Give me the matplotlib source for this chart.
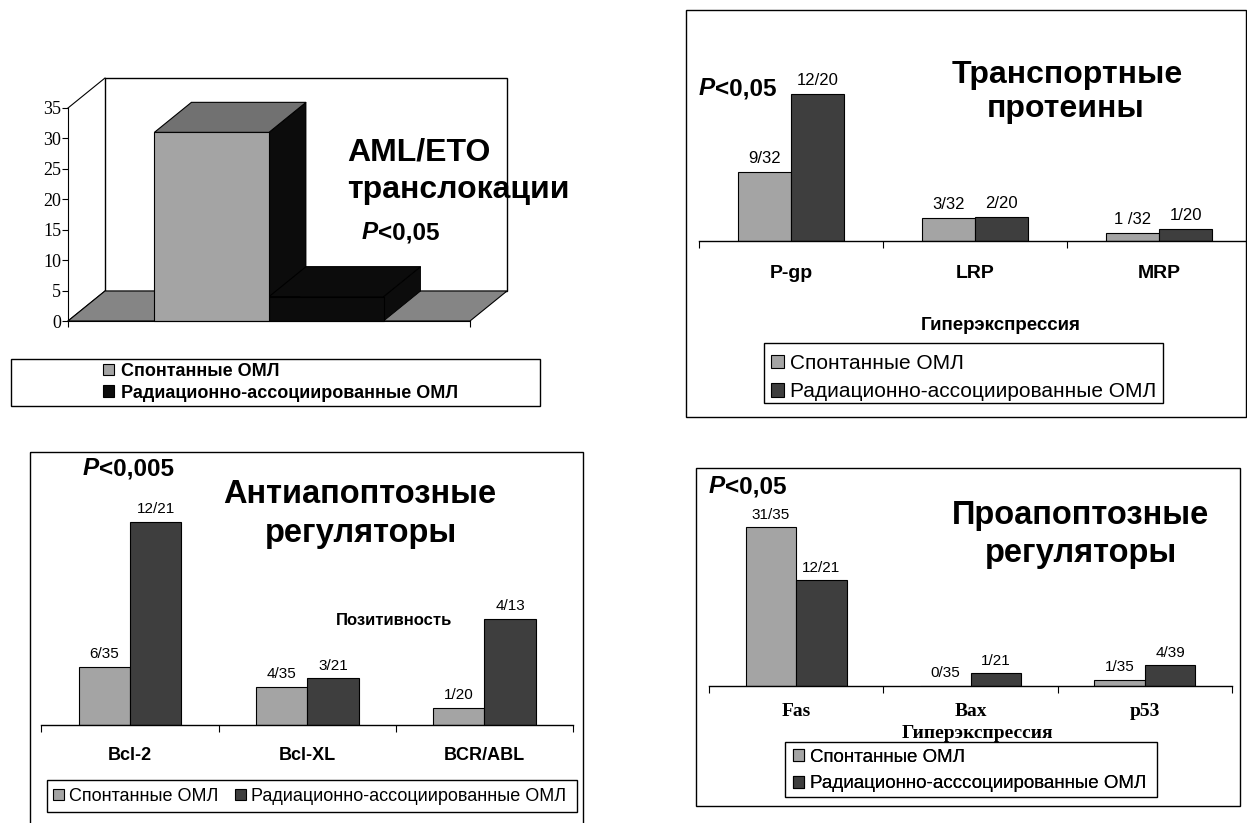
import matplotlib
matplotlib.use('Agg')
import matplotlib.pyplot as plt
from matplotlib.patches import Rectangle, Polygon
import numpy as np

plt.rcParams['font.family'] = ['Liberation Sans', 'DejaVu Sans']

W, H = 1247, 823

series_names = ['Спонтанные ОМЛ', 'Радиационно-ассоциированные ОМЛ']
series_names_pro = ['Спонтанные ОМЛ', 'Радиационно-асссоциированные ОМЛ']

# AML/ETO (3D columns)
aml_values = [31, 4]
aml_yticks = [0, 5, 10, 15, 20, 25, 30, 35]

# Транспортные протеины, % of patients
tr_cats = ['P-gp', 'LRP', 'MRP']
tr_spont = [28.2, 9.4, 3.3]
tr_rad = [60.0, 9.8, 4.9]
tr_spont_lbl = ['9/32', '3/32', '1 /32']
tr_rad_lbl = ['12/20', '2/20', '1/20']

# Антиапоптозные регуляторы
anti_cats = ['Bcl-2', 'Bcl-XL', 'BCR/ABL']
anti_spont = [17.1, 11.2, 5.0]
anti_rad = [59.7, 13.8, 31.2]
anti_spont_lbl = ['6/35', '4/35', '1/20']
anti_rad_lbl = ['12/21', '3/21', '4/13']

# Проапоптозные регуляторы
pro_cats = ['Fas', 'Bax', 'p53']
pro_spont = [88.6, 0, 3.5]
pro_rad = [59.0, 7.2, 11.5]
pro_spont_lbl = ['31/35', '0/35', '1/35']
pro_rad_lbl = ['12/21', '1/21', '4/39']

GRAY = '#a4a4a4'
DARK = '#3e3e3e'
P_SIZE = 17.5

fig = plt.figure(figsize=(W / 100, H / 100), dpi=100)

# overlay in pixel coords for frames and free text (drawn on top)
ov = fig.add_axes([0, 0, 1, 1])
ov.set_xlim(0, W)
ov.set_ylim(H, 0)
ov.axis('off')
ov.patch.set_visible(False)
ov.set_zorder(10)


def px_axes(x0, y0, x1, y1):
    ax = fig.add_axes([x0 / W, 1 - y1 / H, (x1 - x0) / W, (y1 - y0) / H])
    ax.patch.set_visible(False)
    return ax


def frame(x0, y0, x1, y1, lw=1.0):
    ov.add_patch(Rectangle((x0, y0), x1 - x0, y1 - y0, fill=False,
                           edgecolor='black', linewidth=lw))


def p_label(x, y, rest, size=P_SIZE):
    t = ov.text(x, y, 'P', fontsize=size, fontweight='bold',
                fontstyle='italic', va='baseline', ha='left')
    ov.annotate(rest, xy=(1, 0), xycoords=t, fontsize=size,
                fontweight='bold', va='bottom', ha='left')


def legend(handles, names, x, y, **kw):
    opts = dict(loc='upper left', bbox_to_anchor=(x, y),
                bbox_transform=ov.transData, frameon=False, borderpad=0,
                borderaxespad=0, handlelength=0.6, handleheight=0.6,
                handletextpad=0.3)
    opts.update(kw)
    leg = ov.legend(handles, names, **opts)
    ov.add_artist(leg)
    return leg


def grouped(ax, cats, spont, rad, spont_lbl, rad_lbl, ymax, names,
            lbl_size=11, cat_font=None, cat_pad=17):
    x = np.arange(len(cats))
    w = 0.29
    b1 = ax.bar(x - w / 2, spont, w, color=GRAY, edgecolor='black',
                linewidth=0.8, label=names[0])
    b2 = ax.bar(x + w / 2, rad, w, color=DARK, edgecolor='black',
                linewidth=0.8, label=names[1])
    ax.bar_label(b1, labels=spont_lbl, padding=4, fontsize=lbl_size)
    ax.bar_label(b2, labels=rad_lbl, padding=4, fontsize=lbl_size)
    ax.set_xlim(-0.5, len(cats) - 0.5)
    ax.set_ylim(0, ymax)
    for s in ['left', 'top', 'right']:
        ax.spines[s].set_visible(False)
    ax.spines['bottom'].set_linewidth(1.0)
    ax.set_yticks([])
    ax.set_xticks(np.arange(len(cats) + 1) - 0.5)
    ax.set_xticklabels([])
    ax.tick_params(axis='x', which='major', direction='out', length=5, width=0.8)
    ax.set_xticks(x, minor=True)
    ax.set_xticklabels(cats, minor=True, **(cat_font or {}))
    ax.tick_params(axis='x', which='minor', length=0, pad=cat_pad)
    return b1, b2


# ---------------- panel 1: AML/ETO, pseudo-3D ----------------
ax1 = px_axes(68, 108, 470, 321)
ax1.set_xlim(0, 1)
ax1.set_ylim(0, 35)
dx = 37 / 402.0
dy = 30 / (213 / 35.0)
ymax1 = aml_yticks[-1]
# back wall and left edges
ax1.add_patch(Rectangle((dx, dy), 1, ymax1, facecolor='white',
                        edgecolor='black', linewidth=1, clip_on=False, zorder=1))
ax1.plot([0, dx], [ymax1, ymax1 + dy], color='black', lw=0.8, clip_on=False)
ax1.plot([0, dx], [0, dy], color='black', lw=0.8, clip_on=False)
# floor
ax1.add_patch(Polygon([(0, 0), (1, 0), (1 + dx, dy), (dx, dy)], closed=True,
                      facecolor='#858585', edgecolor='black', linewidth=0.8,
                      clip_on=False, zorder=2))
bw = 0.285
lefts = [0.5 - bw, 0.5]
fronts = [GRAY, '#0c0c0c']
tops = ['#717171', '#0c0c0c']
handles1 = []
for i in [1, 0]:
    l, v = lefts[i], aml_values[i]
    z = 4 if i == 1 else 6
    side = Polygon([(l + bw, 0), (l + bw + dx, dy), (l + bw + dx, v + dy),
                    (l + bw, v)], closed=True, facecolor='#0c0c0c',
                   edgecolor='black', linewidth=0.6, clip_on=False,
                   zorder=z if i == 1 else 3)
    front = Polygon([(l, 0), (l + bw, 0), (l + bw, v), (l, v)], closed=True,
                    facecolor=fronts[i], edgecolor='black', linewidth=0.8,
                    clip_on=False, zorder=z, label=series_names[i])
    top = Polygon([(l, v), (l + bw, v), (l + bw + dx, v + dy), (l + dx, v + dy)],
                  closed=True, facecolor=tops[i], edgecolor='black',
                  linewidth=0.8, clip_on=False, zorder=z)
    ax1.add_patch(side)
    ax1.add_patch(front)
    ax1.add_patch(top)
    handles1.insert(0, front)
for s in ['top', 'right']:
    ax1.spines[s].set_visible(False)
ax1.spines['left'].set_zorder(10)
ax1.spines['bottom'].set_zorder(10)
ax1.set_yticks(aml_yticks)
ax1.set_yticklabels([str(t) for t in aml_yticks], family='Liberation Serif',
                    fontsize=13)
ax1.tick_params(axis='y', direction='out', length=4, pad=1)
ax1.set_xticks([0, 1])
ax1.set_xticklabels([])
ax1.tick_params(axis='x', direction='out', length=4)

ov.text(347, 160, 'AML/ETO', fontsize=23, fontweight='bold', va='baseline')
ov.text(347, 198, 'транслокации', fontsize=23, fontweight='bold', va='baseline')
p_label(362, 239, '<0,05')

frame(11, 359, 540, 406)
legend(handles1, series_names, 103, 363, handletextpad=0.4,
       labelspacing=0.25, prop={'weight': 'bold', 'size': 13})

# ---------------- panel 2: transport proteins ----------------
frame(686, 10, 1246, 417)
ax2 = px_axes(699, 69.5, 1251, 241)
h2 = grouped(ax2, tr_cats, tr_spont, tr_rad, tr_spont_lbl, tr_rad_lbl, 70,
             series_names, lbl_size=12,
             cat_font={'fontsize': 14, 'fontweight': 'bold'}, cat_pad=17)
ov.text(1067, 83, 'Транспортные', fontsize=23, fontweight='bold',
        ha='center', va='baseline')
ov.text(1066, 117, 'протеины', fontsize=23, fontweight='bold',
        ha='center', va='baseline')
p_label(699, 95, '<0,05')
ov.text(1001, 330, 'Гиперэкспрессия', fontsize=13.5, fontweight='bold',
        ha='center', va='baseline')
frame(764, 343, 1163, 403)
legend(list(h2), series_names, 771, 354, labelspacing=0.45,
       prop={'size': 15})

# ---------------- panel 3: anti-apoptotic ----------------
frame(30, 452, 583, 830)
ax3 = px_axes(41.5, 504, 573, 725)
h3 = grouped(ax3, anti_cats, anti_spont, anti_rad, anti_spont_lbl,
             anti_rad_lbl, 65, series_names, lbl_size=11,
             cat_font={'fontsize': 13, 'fontweight': 'bold'}, cat_pad=16)
ov.text(360, 503, 'Антиапоптозные', fontsize=23.5, fontweight='bold',
        ha='center', va='baseline')
ov.text(361, 542, 'регуляторы', fontsize=23.5, fontweight='bold',
        ha='center', va='baseline')
p_label(83, 475, '<0,005')
ov.text(394, 625, 'Позитивность', fontsize=12, fontweight='bold',
        ha='center', va='baseline')
frame(47, 780, 577, 812)
legend(list(h3), series_names, 53, 788, ncol=2, columnspacing=0.9,
       prop={'size': 13})

# ---------------- panel 4: pro-apoptotic ----------------
frame(696, 468, 1240, 806)
ax4 = px_axes(709, 507, 1232, 686)
h4 = grouped(ax4, pro_cats, pro_spont, pro_rad, pro_spont_lbl, pro_rad_lbl,
             100, series_names_pro, lbl_size=11,
             cat_font={'fontsize': 14, 'fontweight': 'bold',
                       'family': 'Liberation Serif'}, cat_pad=12)
ov.text(1081, 524, 'Проапоптозные', fontsize=23.5, fontweight='bold',
        ha='center', va='baseline')
ov.text(1081, 562, 'регуляторы', fontsize=23.5, fontweight='bold',
        ha='center', va='baseline')
p_label(709, 493, '<0,05')
ov.text(977, 738, 'Гиперэкспрессия', fontsize=14, fontweight='bold',
        family='Liberation Serif', ha='center', va='baseline')
frame(785, 742, 1157, 797)
legend(list(h4), series_names_pro, 793, 749, labelspacing=0.5,
       prop={'size': 13.5})

fig.savefig('out.png', dpi=100)
